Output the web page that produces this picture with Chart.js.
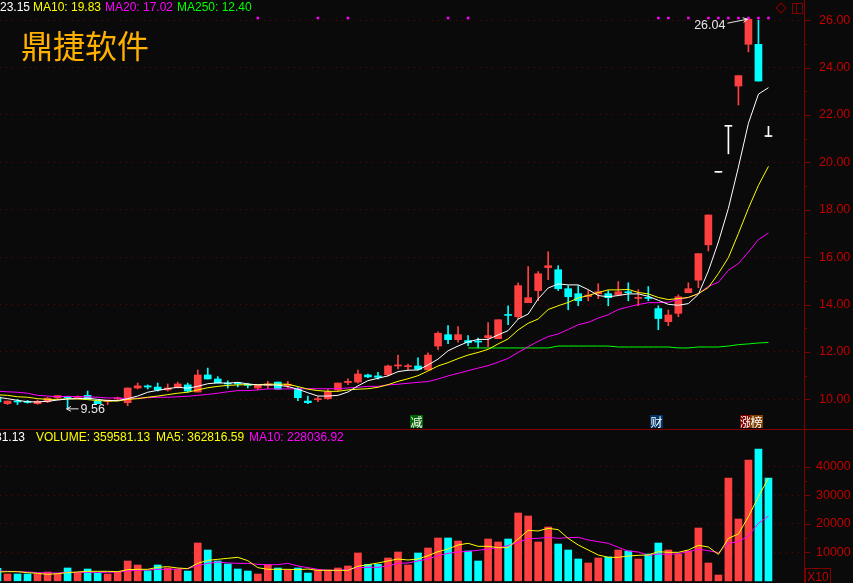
<!DOCTYPE html>
<html>
<head>
<meta charset="utf-8">
<title>鼎捷软件</title>
<script src="https://cdn.jsdelivr.net/npm/chart.js@4"></script>
<style>
    html, body { margin: 0; padding: 0; background: #0a0a0a; }
    #stage { position: relative; width: 853px; height: 583px; overflow: hidden; background: #0a0a0a; font-family: "Liberation Sans", Arial, sans-serif; }
    canvas { position: absolute; left: 0; }
    .legend { position: absolute; font-size: 12px; line-height: 14px; white-space: nowrap; }
    .brand { position: absolute; left: 21px; top: 22px; color: #ffb000; font: 32px/44px "Noto Sans CJK SC", sans-serif; }
    .badge { position: absolute; top: 415px; width: 13px; height: 13px; color: #fff; font: 12px/13px "Noto Sans CJK SC", sans-serif; text-align: center; }
    .diamond { position: absolute; left: 777px; top: 4px; width: 6px; height: 6px; border: 1px solid #800000; transform: rotate(45deg); }
    .split { position: absolute; left: 792px; top: 3px; width: 4px; height: 9px; border: 1px solid #800000; border-right: 0; }
    .split2 { position: absolute; left: 796px; top: 3px; width: 5px; height: 9px; border: 1px solid #800000; }
    .scale-box { position: absolute; left: 805px; top: 568px; width: 24px; height: 15px; border: 1px solid #800000; border-bottom: 0; color: #c00000; font-size: 12px; line-height: 16px; text-align: center; }
    .rule { position: absolute; left: 0; top: 429px; width: 853px; height: 1px; background: #800000; }
</style>
</head>
<body>
<div id="stage">
    <canvas id="priceChart" width="853" height="429" style="top:0"></canvas>
    <canvas id="volumeChart" width="853" height="153" style="top:430px"></canvas>
    <div class="rule"></div>
    <div class="legend" style="left:0;top:0;color:#fff">23.15</div>
    <div class="legend" style="left:33px;top:0;color:#ffff00">MA10: 19.83</div>
    <div class="legend" style="left:105px;top:0;color:#ff00ff">MA20: 17.02</div>
    <div class="legend" style="left:177px;top:0;color:#00ff00">MA250: 12.40</div>
    <div class="brand">鼎捷软件</div>
    <div class="diamond"></div>
    <div class="split"></div>
    <div class="split2"></div>
    <div class="badge" style="left:410px;background:#006400">减</div>
    <div class="badge" style="left:650px;background:#003366">财</div>
    <div class="badge" style="left:740px;width:10px;background:#800000;overflow:hidden">涨</div>
    <div class="badge" style="left:750px;background:#804000">榜</div>
    <div class="legend" style="right:828px;top:430px;color:#fff">359581.13</div>
    <div class="legend" style="left:36px;top:430px;color:#ffff00">VOLUME: 359581.13</div>
    <div class="legend" style="left:156px;top:430px;color:#ffff00">MA5: 362816.59</div>
    <div class="legend" style="left:249px;top:430px;color:#ff00ff">MA10: 228036.92</div>
    <div class="scale-box">X10</div>
</div>
<script>
// one entry per session, oldest first (first one is cut off by the left edge)
const opens = [
    10.10, 9.82, 9.92, 9.91, 9.82, 9.90, 10.07, 10.10, 10.08, 10.17,
    9.93, 9.92, 10.02, 9.86, 10.48, 10.57, 10.52, 10.40, 10.52, 10.61,
    10.31, 11.03, 10.86, 10.68, 10.69, 10.64, 10.48, 10.59, 10.73, 10.58,
    10.43, 9.93, 9.99, 10.03, 10.40, 10.71, 10.73, 11.03, 10.99, 11.04,
    11.41, 11.38, 11.41, 11.24, 12.25, 12.73, 12.52, 12.48, 12.45, 12.60,
    12.56, 13.57, 13.49, 14.08, 14.59, 15.56, 15.47, 14.67, 14.46, 14.34,
    14.46, 14.46, 14.42, 14.54, 14.26, 14.29, 13.83, 13.28, 13.63, 14.50,
    15.03, 16.52, 19.58, 21.52, 23.22, 24.98, 24.98, 21.09
];
const closes = [
    9.89, 9.93, 9.89, 9.87, 9.92, 10.05, 10.16, 10.07, 10.11, 10.00,
    9.82, 9.97, 10.04, 10.48, 10.57, 10.52, 10.40, 10.48, 10.65, 10.35,
    11.03, 10.86, 10.69, 10.65, 10.65, 10.59, 10.59, 10.65, 10.43, 10.64,
    10.07, 9.86, 10.02, 10.32, 10.69, 10.76, 11.07, 10.95, 10.93, 11.41,
    11.45, 11.42, 11.27, 11.87, 12.79, 12.52, 12.73, 12.39, 12.42, 12.69,
    13.36, 13.54, 14.80, 14.29, 15.30, 15.64, 14.67, 14.33, 14.16, 14.40,
    14.54, 14.29, 14.54, 14.50, 14.30, 14.26, 13.41, 13.56, 14.33, 14.67,
    16.15, 17.78, 19.58, 21.52, 23.66, 26.04, 23.43, 21.09
];
const highs = [
    10.13, 9.93, 10.00, 9.96, 9.97, 10.09, 10.16, 10.10, 10.15, 10.35,
    9.93, 9.97, 10.10, 10.48, 10.69, 10.61, 10.69, 10.65, 10.73, 10.69,
    11.24, 11.32, 10.96, 10.78, 10.72, 10.68, 10.59, 10.76, 10.73, 10.76,
    10.50, 10.14, 10.11, 10.42, 10.69, 10.87, 11.24, 11.07, 11.14, 11.45,
    11.87, 11.49, 11.75, 11.96, 12.85, 13.11, 13.07, 12.69, 12.59, 13.24,
    13.36, 13.95, 14.92, 15.60, 15.39, 16.23, 15.64, 14.80, 14.80, 14.59,
    14.88, 14.59, 14.97, 14.92, 14.63, 14.76, 13.95, 13.77, 14.41, 14.92,
    16.15, 17.78, 19.58, 21.52, 23.66, 26.04, 26.00, 21.52
];
const lows = [
    9.86, 9.78, 9.78, 9.84, 9.79, 9.86, 10.00, 9.60, 10.06, 10.00,
    9.82, 9.78, 9.97, 9.73, 10.44, 10.44, 10.35, 10.35, 10.48, 10.31,
    10.31, 10.86, 10.69, 10.48, 10.53, 10.48, 10.40, 10.45, 10.43, 10.48,
    9.95, 9.82, 9.90, 10.00, 10.36, 10.62, 10.68, 10.92, 10.85, 10.99,
    11.28, 11.24, 11.24, 11.24, 12.10, 12.35, 12.41, 12.27, 12.17, 12.22,
    12.56, 13.15, 13.40, 14.08, 14.16, 15.05, 14.59, 13.78, 13.95, 14.16,
    14.25, 13.95, 14.38, 14.16, 13.95, 14.16, 12.94, 13.11, 13.49, 14.50,
    14.71, 16.26, 19.58, 20.36, 22.42, 24.66, 23.43, 21.09
];
const ma5 = [
    10.09, 10.03, 9.96, 9.90, 9.89, 9.92, 9.97, 10.02, 10.03, 10.05,
    10.00, 9.95, 9.95, 10.03, 10.14, 10.30, 10.38, 10.45, 10.51, 10.47,
    10.55, 10.66, 10.70, 10.68, 10.72, 10.65, 10.61, 10.61, 10.60, 10.54,
    10.43, 10.28, 10.14, 10.14, 10.17, 10.31, 10.57, 10.79, 10.89, 10.99,
    11.17, 11.23, 11.24, 11.45, 11.70, 12.05, 12.25, 12.43, 12.53, 12.53,
    12.72, 12.90, 13.39, 13.60, 14.24, 14.70, 14.87, 14.83, 14.83, 14.63,
    14.38, 14.33, 14.38, 14.45, 14.45, 14.35, 14.18, 14.01, 13.97, 14.04,
    14.43, 15.42, 16.64, 18.06, 19.80, 21.65, 22.88, 23.15
];
const ma10 = [
    10.19, 10.17, 10.11, 10.09, 10.03, 10.00, 10.00, 10.02, 10.02, 9.99,
    9.95, 9.93, 9.93, 10.00, 10.03, 10.09, 10.14, 10.20, 10.26, 10.30,
    10.40, 10.49, 10.55, 10.59, 10.61, 10.62, 10.62, 10.64, 10.64, 10.64,
    10.54, 10.43, 10.37, 10.34, 10.34, 10.40, 10.43, 10.45, 10.51, 10.62,
    10.76, 10.87, 11.00, 11.20, 11.41, 11.55, 11.72, 11.87, 11.98, 12.11,
    12.34, 12.55, 12.93, 13.21, 13.39, 13.79, 13.95, 14.09, 14.28, 14.38,
    14.51, 14.62, 14.62, 14.64, 14.51, 14.45, 14.30, 14.21, 14.25, 14.30,
    14.46, 14.72, 15.31, 15.98, 17.00, 18.06, 19.03, 19.83
];
const ma20 = [
    10.35, 10.32, 10.30, 10.26, 10.17, 10.14, 10.11, 10.13, 10.11, 10.11,
    10.09, 10.06, 10.06, 10.03, 10.05, 10.07, 10.09, 10.09, 10.11, 10.13,
    10.17, 10.21, 10.26, 10.32, 10.37, 10.37, 10.40, 10.44, 10.44, 10.44,
    10.45, 10.45, 10.45, 10.45, 10.45, 10.48, 10.51, 10.55, 10.55, 10.61,
    10.64, 10.68, 10.72, 10.75, 10.86, 10.99, 11.10, 11.21, 11.32, 11.42,
    11.57, 11.73, 11.98, 12.22, 12.45, 12.65, 12.76, 12.95, 13.15, 13.25,
    13.43, 13.57, 13.79, 13.90, 14.00, 14.08, 14.08, 14.10, 14.21, 14.30,
    14.46, 14.77, 14.94, 15.45, 15.73, 16.22, 16.74, 17.02
];
const ma250 = [
    null, null, null, null, null, null, null, null, null, null,
    null, null, null, null, null, null, null, null, null, null,
    null, null, null, null, null, null, null, null, null, null,
    null, null, null, null, null, null, null, null, null, null,
    null, null, null, null, null, null, null, 12.17, 12.17, 12.17,
    12.17, 12.17, 12.17, 12.17, 12.17, 12.17, 12.25, 12.25, 12.25, 12.25,
    12.25, 12.25, 12.21, 12.21, 12.21, 12.21, 12.21, 12.21, 12.17, 12.17,
    12.21, 12.21, 12.21, 12.25, 12.31, 12.34, 12.38, 12.40
];
const volumes = [
    4386, 2386, 2386, 2386, 2386, 3088, 2386, 4491, 2842, 4140,
    2737, 2386, 3088, 6947, 5544, 3544, 5544, 4491, 4035, 3439,
    13263, 10807, 6947, 5895, 4140, 3439, 2386, 5544, 4491, 3790,
    4491, 2737, 3790, 3790, 4491, 5193, 9754, 5790, 5790, 8000,
    10105, 5544, 9754, 11509, 15018, 15018, 13965, 10456, 6947, 14667,
    13614, 14667, 23789, 22737, 13614, 18877, 12912, 10807, 7649, 6245,
    8000, 8351, 10807, 10456, 7649, 9404, 13263, 10807, 9404, 10456,
    18526, 6245, 2035, 36070, 21684, 42386, 46246, 36070
];
const volumeSides = [
    "c", "r", "c", "c", "r", "r", "r", "c", "r", "c",
    "c", "r", "r", "r", "r", "c", "c", "r", "r", "c",
    "r", "c", "c", "c", "c", "c", "r", "r", "c", "r",
    "c", "c", "r", "r", "r", "r", "r", "c", "c", "r",
    "r", "r", "c", "r", "r", "c", "r", "c", "c", "r",
    "r", "c", "r", "r", "r", "r", "c", "c", "c", "r",
    "r", "c", "r", "c", "r", "c", "c", "r", "r", "r",
    "r", "r", "r", "r", "r", "r", "c", "c"
];
const volMa5 = [
    3090, 3206, 3206, 2855, 2620, 2270, 2500, 2855, 3090, 3320,
    3320, 3320, 3200, 3910, 4025, 4025, 4727, 4960, 4490, 4260,
    6130, 7180, 7530, 7886, 8237, 7067, 4610, 4025, 4025, 4025,
    3910, 4140, 3670, 3670, 3670, 3670, 5078, 5660, 6250, 6950,
    7650, 7300, 7650, 8820, 10226, 11160, 12566, 13150, 12100, 12100,
    11630, 11630, 14670, 17720, 17480, 18415, 17950, 14900, 12570, 10810,
    9055, 8240, 8240, 8700, 8940, 9055, 10226, 9990, 9990, 10810,
    12450, 11860, 9290, 14900, 16430, 22510, 29530, 36080
];
const volMa10 = [
    3440, 3320, 3200, 3090, 2855, 2738, 2738, 2970, 2970, 2970,
    2970, 2970, 3090, 3440, 3670, 3790, 4025, 4025, 4140, 4260,
    5312, 6130, 6600, 6250, 6130, 6130, 5780, 5660, 5660, 6130,
    5195, 4610, 4025, 3670, 3670, 3910, 4610, 4727, 4727, 5195,
    6130, 6250, 6950, 7650, 8820, 9640, 10110, 10340, 10690, 11160,
    11630, 12330, 13500, 14790, 14900, 15260, 14900, 15140, 15260, 14320,
    13735, 13150, 11750, 10460, 10110, 8940, 9400, 9290, 9520, 10226,
    11045, 10580, 9875, 13150, 13735, 15725, 20170, 22740
];
const priceTicks = [10, 11, 12, 13, 14, 15, 16, 17, 18, 19, 20, 21, 22, 23, 24, 25, 26];
const volumeTicks = [10000, 15000, 20000, 25000, 30000, 35000, 40000];
const markerSessions = [26, 32, 35, 45, 47, 66, 67, 69, 71, 72, 73, 74, 75, 76, 77];
const markerLevel = 26.09;
const highLabel = { session: 75, text: "26.04" };
const lowLabel = { session: 7, text: "9.56" };

const UP_COLOR = "#ff4040";
const DOWN_COLOR = "#00ffff";
const FLAT_COLOR = "#ffffff";
const AXIS_RED = "#800000";
const TEXT_RED = "#c00000";
const GRID_RED = "#6a0000";

function candleColor(i) {
    if (closes[i] > opens[i]) return UP_COLOR;
    if (closes[i] < opens[i]) return DOWN_COLOR;
    return FLAT_COLOR;
}

function points(values) {
    return values.map((y, i) => ({ x: i, y }));
}

function lineSet(values, color) {
    return {
        type: "line",
        data: points(values),
        borderColor: color,
        borderWidth: 1,
        pointRadius: 0,
        tension: 0,
        order: 1,
    };
}

const sessionAxis = { type: "linear", min: 0.25, max: 80.55, offset: false, display: false };

function valueAxis(min, max, tickValues, majorStep, labelFor, labelPad) {
    return {
        position: "right",
        min,
        max,
        afterFit: (scale) => {
            scale.width = 49;
            // the labels are allowed to overhang, keep the scale the full canvas height
            scale.paddingTop = 0;
            scale.paddingBottom = 0;
        },
        afterBuildTicks: (scale) => { scale.ticks = tickValues.map((value) => ({ value })); },
        border: { color: AXIS_RED, width: 1, dash: [1, 5] },
        grid: {
            color: (ctx) => (ctx.tick && ctx.tick.value % majorStep === 0 ? GRID_RED : "transparent"),
            drawTicks: false,
            lineWidth: 1,
        },
        ticks: {
            autoSkip: false,
            maxRotation: 0,
            padding: labelPad,
            color: TEXT_RED,
            font: { family: '"Liberation Sans", Arial, sans-serif', size: 12.5 },
            callback: labelFor,
        },
    };
}

// short marks on the right axis, longer on the labelled values
function axisMarks(majorStep) {
    return {
        id: "axisMarks",
        afterDraw(chart) {
            const { ctx, scales } = chart;
            const axis = scales.y;
            ctx.save();
            ctx.strokeStyle = AXIS_RED;
            ctx.lineWidth = 1;
            axis.ticks.forEach((t) => {
                const y = Math.round(axis.getPixelForValue(t.value)) + 0.5;
                const len = t.value % majorStep === 0 ? 6 : 3;
                ctx.beginPath();
                ctx.moveTo(axis.left, y);
                ctx.lineTo(axis.left + len, y);
                ctx.stroke();
            });
            ctx.restore();
        },
    };
}

function drawArrow(ctx, fromX, fromY, toX, toY) {
    const angle = Math.atan2(toY - fromY, toX - fromX);
    ctx.beginPath();
    ctx.moveTo(fromX, fromY);
    ctx.lineTo(toX, toY);
    ctx.moveTo(toX - 5 * Math.cos(angle - 0.5), toY - 5 * Math.sin(angle - 0.5));
    ctx.lineTo(toX, toY);
    ctx.lineTo(toX - 5 * Math.cos(angle + 0.5), toY - 5 * Math.sin(angle + 0.5));
    ctx.stroke();
}

// the 26.04 / 9.56 extreme labels
const extremeLabels = {
    id: "extremeLabels",
    afterDatasetsDraw(chart) {
        const { ctx, scales } = chart;
        ctx.save();
        ctx.strokeStyle = "#e8e8e8";
        ctx.fillStyle = "#e8e8e8";
        ctx.lineWidth = 1;
        ctx.font = '12.5px "Liberation Sans", Arial, sans-serif';
        ctx.textBaseline = "middle";

        const hx = scales.x.getPixelForValue(highLabel.session) - 1;
        const hy = scales.y.getPixelForValue(highs[highLabel.session]);
        drawArrow(ctx, hx - 20, hy + 4, hx, hy);
        ctx.textAlign = "right";
        ctx.fillText(highLabel.text, hx - 22, hy + 6);

        const lx = scales.x.getPixelForValue(lowLabel.session) - 1;
        const ly = scales.y.getPixelForValue(lows[lowLabel.session]);
        drawArrow(ctx, lx + 12, ly, lx, ly);
        ctx.textAlign = "left";
        ctx.fillText(lowLabel.text, lx + 14, ly + 1);
        ctx.restore();
    },
};

new Chart(document.getElementById("priceChart"), {
    type: "bar",
    data: {
        datasets: [
            {
                data: points(opens).map((p, i) => ({ x: i, y: [lows[i], highs[i]] })),
                backgroundColor: (ctx) => candleColor(ctx.dataIndex),
                barThickness: 1,
                minBarLength: 1,
                grouped: false,
                order: 3,
            },
            {
                data: points(opens).map((p, i) => ({ x: i, y: [opens[i], closes[i]] })),
                backgroundColor: (ctx) => candleColor(ctx.dataIndex),
                barThickness: 7,
                minBarLength: 1,
                grouped: false,
                order: 2,
            },
            lineSet(ma5, "#ffffff"),
            lineSet(ma10, "#ffff00"),
            lineSet(ma20, "#ff00ff"),
            lineSet(ma250, "#00ff00"),
            {
                type: "scatter",
                data: markerSessions.map((i) => ({ x: i, y: markerLevel })),
                backgroundColor: "#ff00ff",
                borderWidth: 0,
                pointStyle: "rect",
                pointRadius: 1.8,
                order: 1,
            },
        ],
    },
    options: {
        responsive: false,
        animation: false,
        layout: { padding: 0, autoPadding: false },
        plugins: { legend: { display: false }, tooltip: { enabled: false } },
        scales: {
            x: sessionAxis,
            y: valueAxis(8.75, 26.85, priceTicks, 2, (v) => (v % 2 === 0 ? v.toFixed(2) : ""), 15),
        },
    },
    plugins: [axisMarks(2), extremeLabels],
});

new Chart(document.getElementById("volumeChart"), {
    type: "bar",
    data: {
        datasets: [
            {
                data: points(volumes),
                backgroundColor: (ctx) => (volumeSides[ctx.dataIndex] === "r" ? UP_COLOR : DOWN_COLOR),
                barThickness: 7,
                grouped: false,
                order: 2,
            },
            lineSet(volMa5, "#ffff00"),
            lineSet(volMa10, "#ff00ff"),
        ],
    },
    options: {
        responsive: false,
        animation: false,
        layout: { padding: 0, autoPadding: false },
        plugins: { legend: { display: false }, tooltip: { enabled: false } },
        scales: {
            x: sessionAxis,
            y: valueAxis(-772, 52912, volumeTicks, 10000, (v) => (v % 10000 === 0 ? String(v) : ""), 12),
        },
    },
    plugins: [axisMarks(10000)],
});
</script>
</body>
</html>
